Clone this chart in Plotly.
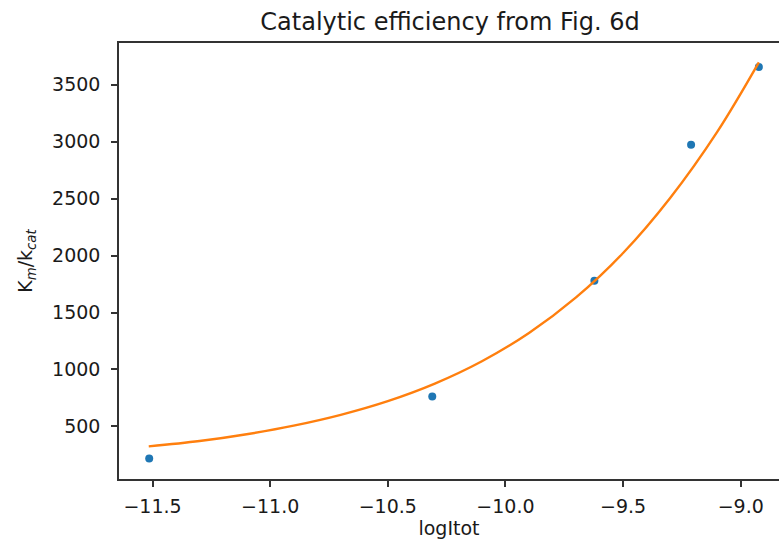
import plotly.graph_objects as go

# Measured data points
log_itot = [-11.514, -10.311, -9.622, -9.211, -8.923]
km_kcat = [220, 763, 1779, 2971, 3654]

# Fitted curve
fit_x = [-11.516, -11.3, -11.1, -10.9, -10.7, -10.5, -10.3, -10.1,
         -9.9, -9.7, -9.5, -9.3, -9.1, -8.923]
fit_y = [325, 372, 432, 507, 602, 722, 876, 1072,
         1320, 1632, 2022, 2505, 3085, 3695]

x_ticks = [-11.5, -11.0, -10.5, -10.0, -9.5, -9.0]
y_ticks = [500, 1000, 1500, 2000, 2500, 3000, 3500]

FONT = "DejaVu Sans"
TXT = "#1a1a1a"
AX = "#333333"

fig = go.Figure()
fig.add_trace(go.Scatter(
    x=log_itot, y=km_kcat, mode="markers",
    marker=dict(color="#1f77b4", size=8, line=dict(width=0)),
    showlegend=False,
))
fig.add_trace(go.Scatter(
    x=fit_x, y=fit_y, mode="lines",
    line=dict(color="#ff7f0e", width=2.4, shape="spline", smoothing=1.0),
    showlegend=False,
))

fig.update_layout(
    width=779, height=542,
    margin=dict(l=119, r=0, t=43, b=63),
    paper_bgcolor="white", plot_bgcolor="white",
    font=dict(family=FONT, color=TXT, size=19),
    title=dict(text="Catalytic efficiency from Fig. 6d",
               x=450 / 779, xref="container", xanchor="center",
               y=1 - 22 / 542, yref="container", yanchor="middle",
               font=dict(family=FONT, size=24, color=TXT)),
)
fig.update_xaxes(
    range=[-11.6424, -8.8374], tickvals=x_ticks, tickformat=".1f",
    showgrid=False, zeroline=False,
    showline=True, mirror=True, linecolor=AX, linewidth=1.5,
    ticks="outside", ticklen=6, tickwidth=1.5, tickcolor=AX,
    tickfont=dict(size=19, color=TXT), ticklabelstandoff=3,
    title=dict(text="logItot", font=dict(size=19, color=TXT), standoff=6),
)
fig.update_yaxes(
    range=[39.1, 3864.6], tickvals=y_ticks,
    showgrid=False, zeroline=False,
    showline=True, mirror=False, linecolor=AX, linewidth=1.5,
    ticks="outside", ticklen=6, tickwidth=1.5, tickcolor=AX,
    tickfont=dict(size=19, color=TXT), ticklabelstandoff=7,
    title=dict(text="K<sub><i>m</i></sub>/k<sub><i>cat</i></sub>",
               font=dict(size=19, color=TXT), standoff=14),
)

fig.write_html("out.html")
